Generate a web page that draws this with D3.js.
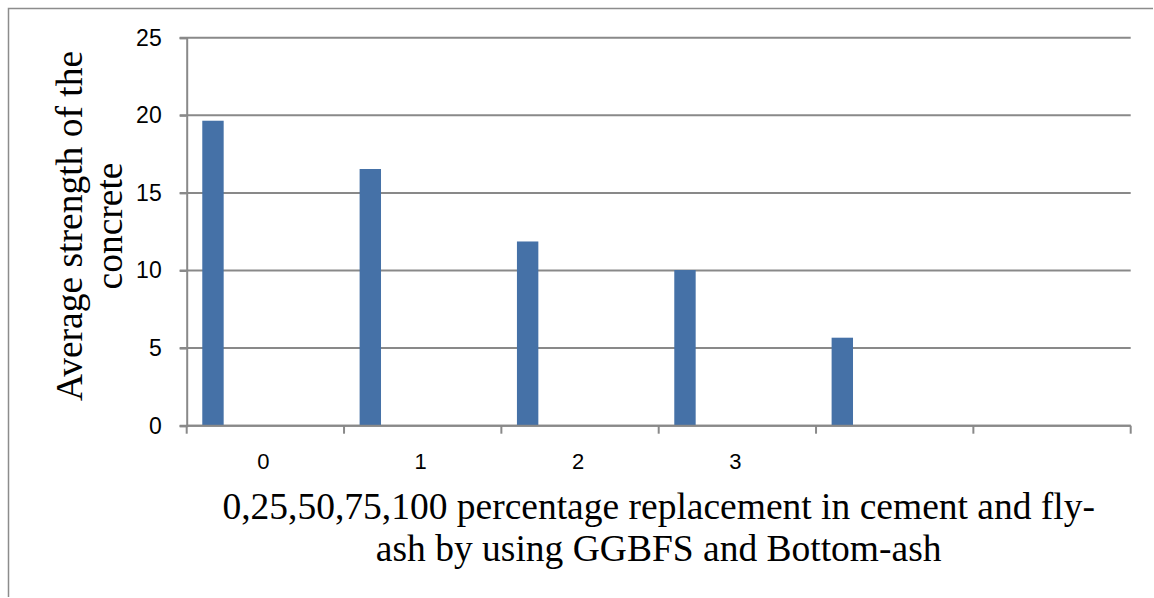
<!DOCTYPE html>
<html>
<head>
<meta charset="utf-8">
<script src="https://cdn.jsdelivr.net/npm/d3@7"></script>
<style>
  body { margin: 0; background: #fff; }
  svg { display: block; }
</style>
</head>
<body>
<div id="chart"></div>
<script>
// data
const categories = [0, 1, 2, 3, 4, 5];
const tickLabels = ["0", "1", "2", "3", "", ""];
const values = [19.65, 16.54, 11.87, 10.03, 5.67, null];
const yTicks = [0, 5, 10, 15, 20, 25];
const xTitle = ["0,25,50,75,100 percentage replacement in cement and fly-", "ash by using GGBFS and Bottom-ash"];
const yTitle = ["Average strength of the", "concrete"];

const width = 1154, height = 598;
const plot = { left: 186.7, right: 1130.7, top: 37.7, bottom: 425.7 };
const gridColor = "#898989",
  barColor = "#4571a7",
  tickFont = "'Liberation Sans', Arial, sans-serif",
  titleFont = "'Liberation Serif', 'Times New Roman', serif";

const svg = d3.select("#chart")
  .append("svg")
  .attr("width", width)
  .attr("height", height);

// outer frame (top + left edges only show)
svg.append("path")
  .attr("d", `M8.5,597V8.5H1153`)
  .attr("fill", "none")
  .attr("stroke", "#8c8c8c")
  .attr("stroke-width", 1.5);

const x = d3.scaleBand()
  .domain(categories)
  .range([plot.left, plot.right])
  .padding(0);

const y = d3.scaleLinear()
  .domain([0, 25])
  .range([plot.bottom, plot.top]);

// gridlines
svg.append("g")
  .selectAll("line")
  .data(yTicks)
  .join("line")
  .attr("x1", plot.left - 7)
  .attr("x2", plot.right)
  .attr("y1", d => y(d))
  .attr("y2", d => y(d))
  .attr("stroke", gridColor)
  .attr("stroke-width", 2);

// y axis
const yAxis = svg.append("g")
  .attr("transform", `translate(${plot.left},0)`)
  .call(d3.axisLeft(y).tickValues(yTicks).tickSize(7).tickPadding(18));
yAxis.select(".domain").attr("stroke", gridColor).attr("stroke-width", 2);
yAxis.selectAll(".tick line").attr("stroke", gridColor).attr("stroke-width", 2);
yAxis.selectAll(".tick text")
  .attr("font-family", tickFont)
  .attr("font-size", 23)
  .attr("fill", "#000");

// bars
const barOffset = 0.099, barWidth = 0.136;
svg.append("g")
  .selectAll("rect")
  .data(categories.filter(i => values[i] != null))
  .join("rect")
  .attr("x", i => x(i) + x.bandwidth() * barOffset)
  .attr("width", x.bandwidth() * barWidth)
  .attr("y", i => y(values[i]))
  .attr("height", i => y(0) - y(values[i]))
  .attr("fill", barColor);

// x axis
const xAxis = svg.append("g");
xAxis.append("line")
  .attr("x1", plot.left).attr("x2", plot.right)
  .attr("y1", y(0)).attr("y2", y(0))
  .attr("stroke", gridColor).attr("stroke-width", 2);
xAxis.selectAll(".xtick")
  .data(categories.map(i => x(i)).concat([plot.right]))
  .join("line")
  .attr("class", "xtick")
  .attr("x1", d => d).attr("x2", d => d)
  .attr("y1", y(0)).attr("y2", y(0) + 8)
  .attr("stroke", gridColor).attr("stroke-width", 2);
xAxis.selectAll("text")
  .data(categories)
  .join("text")
  .attr("x", i => x(i) + x.bandwidth() / 2 - 2)
  .attr("y", 469)
  .attr("text-anchor", "middle")
  .attr("font-family", tickFont)
  .attr("font-size", 22)
  .text(i => tickLabels[i]);

// axis titles
const cx = (plot.left + plot.right) / 2;
svg.append("g")
  .selectAll("text")
  .data(xTitle)
  .join("text")
  .attr("x", cx)
  .attr("y", (d, i) => 519 + i * 42)
  .attr("text-anchor", "middle")
  .attr("font-family", titleFont)
  .attr("font-size", 37.5)
  .text(d => d);

svg.append("g")
  .selectAll("text")
  .data(yTitle)
  .join("text")
  .attr("transform", (d, i) => `translate(${82 + i * 40},226) rotate(-90)`)
  .attr("text-anchor", "middle")
  .attr("font-family", titleFont)
  .attr("font-size", 37.5)
  .text(d => d);
</script>
</body>
</html>
